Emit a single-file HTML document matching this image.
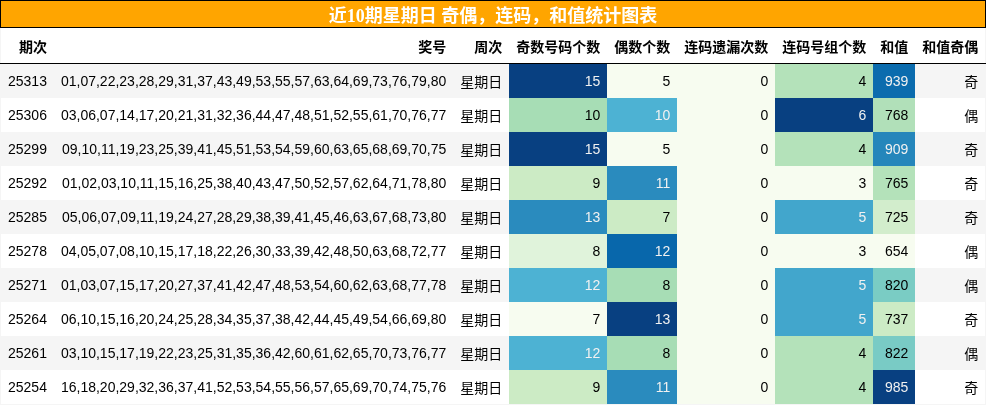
<!DOCTYPE html>
<html><head><meta charset="utf-8"><title>近10期星期日 奇偶，连码，和值统计图表</title>
<style>
html,body{margin:0;padding:0;}
body{width:986px;height:405px;overflow:hidden;position:relative;background:#f5f5f5;}
table,.cap{will-change:transform;}
.cap{position:absolute;left:0;top:0;width:984px;height:26px;border:1px solid #000;background:#ffa500;color:#fff;font-weight:bold;font-size:18px;font-family:"Liberation Serif","Noto Sans CJK SC",serif;text-align:center;line-height:26px;white-space:nowrap;}
table{position:absolute;left:1px;top:28px;border-collapse:collapse;border-spacing:0;font-family:"Liberation Sans","Noto Sans CJK SC",sans-serif;font-size:14px;color:#000;table-layout:fixed;width:984.3px;}
th,td{padding:0 7px;text-align:right;vertical-align:middle;white-space:nowrap;}
th{font-weight:bold;padding-top:0;}
thead tr{height:36px;background:#fff;}
tbody tr{height:34px;}
tbody tr:nth-child(odd){background:#f5f5f5;}
tbody tr:nth-child(even){background:#fff;}
td.w{color:#f1f1f1;}
.cap span{position:relative;top:2px;}
.hl{position:absolute;left:0;top:63px;width:986px;height:1px;background:#000;}
</style></head><body>
<div class="cap"><span>近10期星期日 奇偶，连码，和值统计图表</span></div>
<table>
<colgroup><col style="width:52.94px"><col style="width:399.36px"><col style="width:56px"><col style="width:98px"><col style="width:70px"><col style="width:98px"><col style="width:98px"><col style="width:42px"><col style="width:70px"></colgroup>
<thead><tr><th>期次</th><th>奖号</th><th>周次</th><th>奇数号码个数</th><th>偶数个数</th><th>连码遗漏次数</th><th>连码号组个数</th><th>和值</th><th>和值奇偶</th></tr></thead>
<tbody>
<tr><td>25313</td><td>01,07,22,23,28,29,31,37,43,49,53,55,57,63,64,69,73,76,79,80</td><td>星期日</td><td class="w" style="background:#084081">15</td><td style="background:#f7fcf0">5</td><td style="background:#f7fcf0">0</td><td style="background:#b4e2ba">4</td><td class="w" style="background:#0b6cae">939</td><td>奇</td></tr>
<tr><td>25306</td><td>03,06,07,14,17,20,21,31,32,36,44,47,48,51,52,55,61,70,76,77</td><td>星期日</td><td style="background:#a7ddb5">10</td><td class="w" style="background:#4db2d3">10</td><td style="background:#f7fcf0">0</td><td class="w" style="background:#084081">6</td><td style="background:#b1e0b9">768</td><td>偶</td></tr>
<tr><td>25299</td><td>09,10,11,19,23,25,39,41,45,51,53,54,59,60,63,65,68,69,70,75</td><td>星期日</td><td class="w" style="background:#084081">15</td><td style="background:#f7fcf0">5</td><td style="background:#f7fcf0">0</td><td style="background:#b4e2ba">4</td><td class="w" style="background:#2586bb">909</td><td>奇</td></tr>
<tr><td>25292</td><td>01,02,03,10,11,15,16,25,38,40,43,47,50,52,57,62,64,71,78,80</td><td>星期日</td><td style="background:#ccebc5">9</td><td class="w" style="background:#2a8bbe">11</td><td style="background:#f7fcf0">0</td><td style="background:#f7fcf0">3</td><td style="background:#b4e2ba">765</td><td>奇</td></tr>
<tr><td>25285</td><td>05,06,07,09,11,19,24,27,28,29,38,39,41,45,46,63,67,68,73,80</td><td>星期日</td><td class="w" style="background:#2a8bbe">13</td><td style="background:#ccebc5">7</td><td style="background:#f7fcf0">0</td><td class="w" style="background:#42a6cc">5</td><td style="background:#d2edcc">725</td><td>奇</td></tr>
<tr><td>25278</td><td>04,05,07,08,10,15,17,18,22,26,30,33,39,42,48,50,63,68,72,77</td><td>星期日</td><td style="background:#e0f3db">8</td><td class="w" style="background:#0867ab">12</td><td style="background:#f7fcf0">0</td><td style="background:#f7fcf0">3</td><td style="background:#f7fcf0">654</td><td>偶</td></tr>
<tr><td>25271</td><td>01,03,07,15,17,20,27,37,41,42,47,48,53,54,60,62,63,68,77,78</td><td>星期日</td><td class="w" style="background:#4db2d3">12</td><td style="background:#a7ddb5">8</td><td style="background:#f7fcf0">0</td><td class="w" style="background:#42a6cc">5</td><td style="background:#7accc4">820</td><td>偶</td></tr>
<tr><td>25264</td><td>06,10,15,16,20,24,25,28,34,35,37,38,42,44,45,49,54,66,69,80</td><td>星期日</td><td style="background:#f7fcf0">7</td><td class="w" style="background:#084081">13</td><td style="background:#f7fcf0">0</td><td class="w" style="background:#42a6cc">5</td><td style="background:#ccebc5">737</td><td>奇</td></tr>
<tr><td>25261</td><td>03,10,15,17,19,22,23,25,31,35,36,42,60,61,62,65,70,73,76,77</td><td>星期日</td><td class="w" style="background:#4db2d3">12</td><td style="background:#a7ddb5">8</td><td style="background:#f7fcf0">0</td><td style="background:#b4e2ba">4</td><td style="background:#79cbc5">822</td><td>偶</td></tr>
<tr><td>25254</td><td>16,18,20,29,32,36,37,41,52,53,54,55,56,57,65,69,70,74,75,76</td><td>星期日</td><td style="background:#ccebc5">9</td><td class="w" style="background:#2a8bbe">11</td><td style="background:#f7fcf0">0</td><td style="background:#b4e2ba">4</td><td class="w" style="background:#084081">985</td><td>奇</td></tr>
</tbody></table>
<div class="hl"></div>
</body></html>
